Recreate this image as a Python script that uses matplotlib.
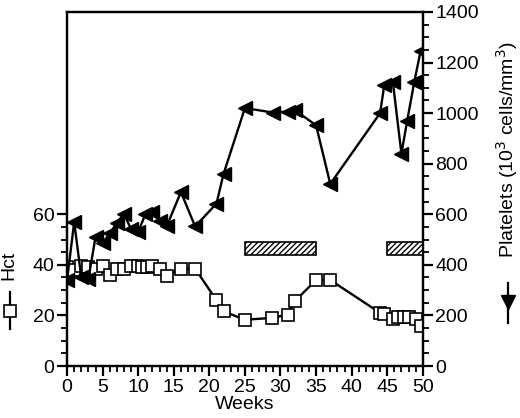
import matplotlib
matplotlib.use("Agg")
import matplotlib.pyplot as plt
from matplotlib.lines import Line2D
from matplotlib.ticker import MultipleLocator, FixedLocator

plt.rcParams['font.family'] = ['Liberation Sans', 'DejaVu Sans']
plt.rcParams['font.size'] = 14

# Hct (left axis, squares)
hct_weeks = [0, 1, 2, 3, 4, 5, 6, 7, 8, 9, 10, 10.6, 11.2, 12, 13, 14, 16, 18,
             21, 22, 25, 28.75, 31, 32, 35, 37, 44, 44.6, 45.8, 46.5, 47.4, 48.1, 49.1, 49.8]
hct_vals = [39, 38, 39.5, 39, 38.5, 39.5, 36, 38.5, 38.5, 39.5, 39.5, 39, 39, 39.5, 38.5, 35.5, 38.5, 38.5,
            26, 21.6, 18.3, 19, 20.3, 25.6, 34, 34, 21, 20.6, 18.6, 19.4, 19.4, 19.4, 18.6, 15.8]

# Platelets (right axis, triangles)
plt_weeks = [0, 1, 2, 3, 4, 5, 6, 7, 8, 9, 10, 11, 12, 13, 14, 16, 18,
             21, 22, 25, 29, 31, 32, 35, 37, 44, 44.6, 45.8, 47, 47.8, 48.8, 49.7]
plt_vals = [340, 570, 350, 345, 510, 485, 525, 565, 603, 540, 530, 600, 607, 572, 552, 688, 552,
            642, 760, 1020, 1002, 1006, 1012, 952, 720, 1000, 1112, 1122, 840, 968, 1122, 1246]

# treatment periods (hatched bars)
bar_start = [25, 45]
bar_end = [35, 50]
bar_low = 440
bar_high = 490

fig = plt.figure(figsize=(5.2, 4.18), dpi=100)
ax = fig.add_axes([0.129, 0.1244, 0.684, 0.847])
ax2 = ax.twinx()

ax.plot(hct_weeks, hct_vals, color='black', lw=1.7, marker='s', ms=9,
        mfc='white', mec='black', mew=1.2, zorder=3)
ax2.plot(plt_weeks, plt_vals, color='black', lw=1.7, marker='<', ms=10,
         mfc='black', mec='black', zorder=3)
ax2.barh([(bar_low + bar_high) / 2] * len(bar_start),
         [e - s for s, e in zip(bar_start, bar_end)], left=bar_start,
         height=bar_high - bar_low, color='white', edgecolor='black',
         hatch='//////', lw=1.2, zorder=2)

ax.set_xlim(0, 50)
ax.set_ylim(0, 140)
ax2.set_ylim(0, 1400)

ax.xaxis.set_major_locator(MultipleLocator(5))
ax.xaxis.set_minor_locator(MultipleLocator(1))
ax.yaxis.set_major_locator(FixedLocator([0, 20, 40, 60]))
ax.yaxis.set_minor_locator(FixedLocator([5, 10, 15, 25, 30, 35, 45, 50, 55]))
ax2.yaxis.set_major_locator(MultipleLocator(200))
ax2.yaxis.set_minor_locator(MultipleLocator(50))

for a in (ax, ax2):
    for s in a.spines.values():
        s.set_linewidth(1.6)
    a.tick_params(which='major', direction='out', length=7, width=1.6, labelsize=14, pad=2)
    a.tick_params(which='minor', direction='out', length=4, width=1.3)

ax.set_xlabel('Weeks', fontsize=14, labelpad=0)

# axis labels with series symbols
fig.text(9 / 520, 1 - 265 / 418, 'Hct', rotation=90, ha='center', va='center', fontsize=14)
fig.add_artist(Line2D([10 / 520] * 3, [1 - 292 / 418, 1 - 311 / 418, 1 - 329 / 418],
                      transform=fig.transFigure, color='black', lw=1.6, marker='s', ms=9,
                      mfc='white', mec='black', mew=1.2, markevery=[1]))
fig.text(507 / 520, 1 - 150 / 418, 'Platelets (10$^3$ cells/mm$^3$)', rotation=90,
         ha='center', va='center', fontsize=14)
fig.add_artist(Line2D([508 / 520] * 3, [1 - 283 / 418, 1 - 302 / 418, 1 - 323 / 418],
                      transform=fig.transFigure, color='black', lw=1.6, marker='v', ms=10,
                      mfc='black', mec='black', markevery=[1]))

fig.savefig('out.png', dpi=100)
